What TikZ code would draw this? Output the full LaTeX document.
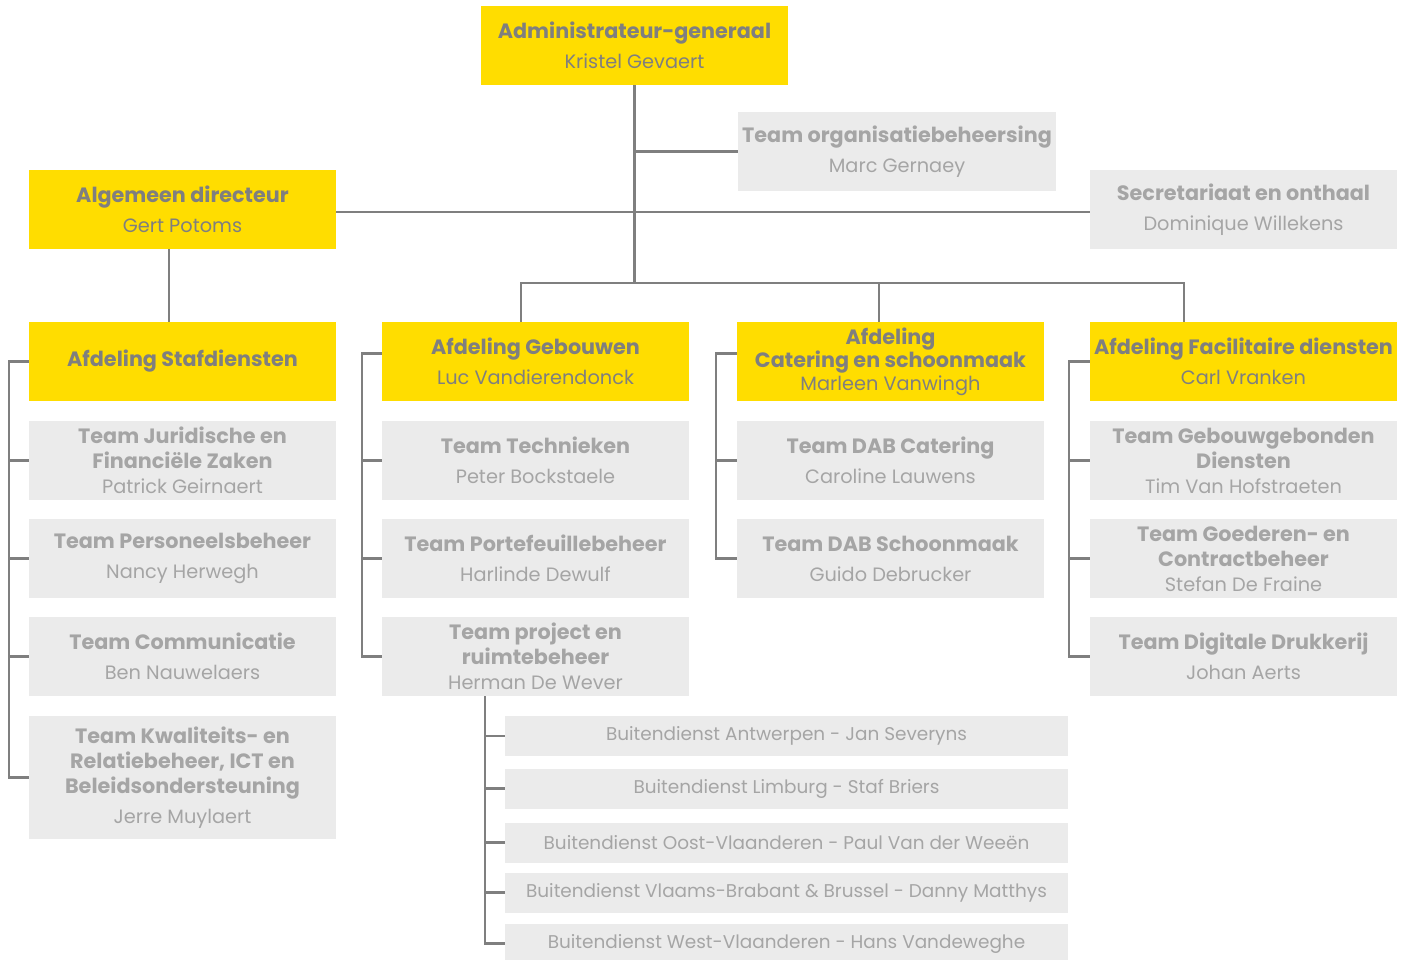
\documentclass[tikz,border=0pt]{standalone}
\usepackage{fontspec}
\setmainfont{Poppins}
\definecolor{geel}{HTML}{FFDD00}
\definecolor{lijn}{HTML}{7F7F7F}
\definecolor{vak}{HTML}{EBEBEB}
\definecolor{tekst}{HTML}{A5A5A5}
\newcommand{\kop}[1]{{\fontsize{11.8}{14.2}\selectfont\bfseries #1}}
\tikzset{
  hoofd/.style={fill=geel, text=lijn, minimum width=6.14cm, minimum height=1.58cm,
    align=center, inner sep=0pt, font=\fontsize{11}{14.2}\selectfont},
  team/.style={hoofd, fill=vak, text=tekst},
  buiten/.style={team, minimum width=11.26cm, minimum height=0.8cm, font=\fontsize{10.5}{13}\selectfont},
  lijnstuk/.style={draw=lijn, line width=1.3pt},
}
\begin{document}
\begin{tikzpicture}[x=0.02cm,y=-0.02cm]
        \useasboundingbox (0,0) rectangle (1410,960);
        % top
        \node[hoofd] (ag) at (634.5,45.5) {\kop{Administrateur-generaal}\\[2.8pt]Kristel Gevaert};
        \node[team, minimum width=6.36cm] (org) at (897,151.5) {\kop{Team organisatiebeheersing}\\[2.8pt]Marc Gernaey};
        \node[hoofd] (ad) at (182.5,209.5) {\kop{Algemeen directeur}\\[2.8pt]Gert Potoms};
        \node[team] (sec) at (1243.5,209.5) {\kop{Secretariaat en onthaal}\\[2.8pt]Dominique Willekens};
        % afdelingen
        \node[hoofd] (staf) at (182.5,361.5) {\kop{Afdeling Stafdiensten}};
        \node[hoofd] (geb) at (535.5,361.5) {\kop{Afdeling Gebouwen}\\[2.8pt]Luc Vandierendonck};
        \node[hoofd] (cat) at (890.5,361.5) {\kop{Afdeling}\\[-1pt]\kop{Catering en schoonmaak}\\[-1pt]Marleen Vanwingh};
        \node[hoofd] (fac) at (1243.5,361.5) {\kop{Afdeling Facilitaire diensten}\\[2.8pt]Carl Vranken};
        % stafdiensten
        \node[team] (jur) at (182.5,460.5) {\kop{Team Juridische en}\\\kop{Financiële Zaken}\\Patrick Geirnaert};
        \node[team] (pers) at (182.5,558.5) {\kop{Team Personeelsbeheer}\\[2.8pt]Nancy Herwegh};
        \node[team] (comm) at (182.5,656.5) {\kop{Team Communicatie}\\[2.8pt]Ben Nauwelaers};
        \node[team, minimum height=2.46cm] (kwal) at (182.5,777.5) {\kop{Team Kwaliteits- en}\\\kop{Relatiebeheer, ICT en}\\\kop{Beleidsondersteuning}\\[2.8pt]Jerre Muylaert};
        % gebouwen
        \node[team] (tech) at (535.5,460.5) {\kop{Team Technieken}\\[2.8pt]Peter Bockstaele};
        \node[team] (port) at (535.5,558.5) {\kop{Team Portefeuillebeheer}\\[2.8pt]Harlinde Dewulf};
        \node[team] (proj) at (535.5,656.5) {\kop{Team project en}\\\kop{ruimtebeheer}\\Herman De Wever};
        % catering
        \node[team] (dabc) at (890.5,460.5) {\kop{Team DAB Catering}\\[2.8pt]Caroline Lauwens};
        \node[team] (dabs) at (890.5,558.5) {\kop{Team DAB Schoonmaak}\\[2.8pt]Guido Debrucker};
        % facilitaire diensten
        \node[team] (ggd) at (1243.5,460.5) {\kop{Team Gebouwgebonden}\\\kop{Diensten}\\Tim Van Hofstraeten};
        \node[team] (gcb) at (1243.5,558.5) {\kop{Team Goederen- en}\\\kop{Contractbeheer}\\Stefan De Fraine};
        \node[team] (dig) at (1243.5,656.5) {\kop{Team Digitale Drukkerij}\\[2.8pt]Johan Aerts};
        % buitendiensten
        \node[buiten] (b1) at (786.5,736) {Buitendienst Antwerpen - Jan Severyns};
        \node[buiten] (b2) at (786.5,788.5) {Buitendienst Limburg - Staf Briers};
        \node[buiten] (b3) at (786.5,842.5) {Buitendienst Oost-Vlaanderen - Paul Van der Weeën};
        \node[buiten] (b4) at (786.5,892.5) {Buitendienst Vlaams-Brabant \& Brussel - Danny Matthys};
        \node[buiten] (b5) at (786.5,943.5) {Buitendienst West-Vlaanderen - Hans Vandeweghe};

        \coordinate (split) at (637,283);
        \draw[lijnstuk] (ag.south) -- (ag.south |- split);
        \draw[lijnstuk] (ag.south |- org.west) -- (org.west);
        \draw[lijnstuk] ([yshift=-0.05cm]ad.east) -- ([yshift=-0.05cm]sec.west);
        \draw[lijnstuk] ([xshift=-0.29cm]geb.north) |- (split) -| ([xshift=-1.19cm]fac.north);
        \draw[lijnstuk] ([xshift=-0.23cm]cat.north) -- ([xshift=-0.23cm]cat.north |- split);
        \draw[lijnstuk] ([xshift=-0.27cm]ad.south) -- ([xshift=-0.27cm]staf.north);
        \foreach \k in {jur,pers,comm,kwal}
          \draw[lijnstuk] (staf.west) -- ++(-20,0) |- (\k.west);
        \foreach \k in {tech,port,proj}
          \draw[lijnstuk] ([yshift=0.16cm]geb.west) -- ++(-20,0) |- (\k.west);
        \foreach \k in {dabc,dabs}
          \draw[lijnstuk] ([yshift=0.16cm]cat.west) -- ++(-21,0) |- (\k.west);
        \foreach \k in {ggd,gcb,dig}
          \draw[lijnstuk] (fac.west) -- ++(-21,0) |- (\k.west);
        \foreach \k in {b1,b2,b3,b4,b5}
          \draw[lijnstuk] ([xshift=-1.01cm]proj.south) |- (\k.west);
      \end{tikzpicture}
\end{document}
